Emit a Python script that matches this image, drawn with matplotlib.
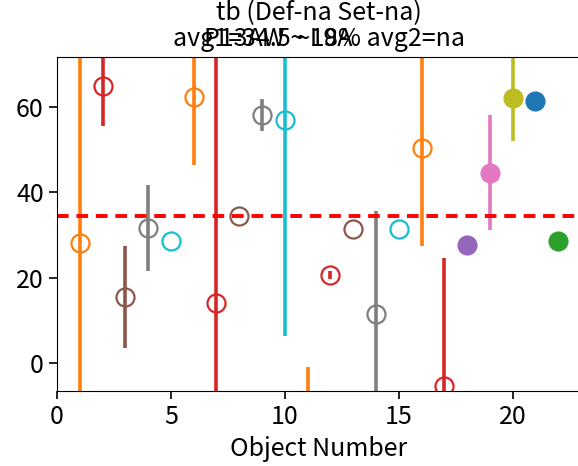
import numpy as np
import matplotlib
matplotlib.use("Agg")
import matplotlib.pyplot as plt

plt.rcParams['font.family'] = ['Noto Sans CJK JP', 'DejaVu Sans']

# Data
obj_num = [1, 2, 3, 4, 5, 6, 7, 8, 9, 10, 11, 12, 13, 14, 15, 16, 17, 18, 19, 20, 21, 22]
values = [28.2, 65.0, 15.5, 31.6, 28.5, 62.4, 14.0, 34.5, 58.1, 57.0, -15.0, 20.6,
          31.4, 11.5, 31.4, 50.4, -5.5, 27.6, 44.6, 62.1, 61.5, 28.5]
errors = [60.0, 9.5, 12.0, 10.0, 0.0, 16.0, 60.0, 0.0, 3.8, 50.6, 14.0, 0.9,
          0.0, 24.2, 0.0, 23.1, 30.0, 0.0, 13.5, 10.1, 0.0, 0.0]
colors = ["#ff7f0e", "#d62728", "#8c564b", "#7f7f7f", "#17becf",
          "#ff7f0e", "#d62728", "#8c564b", "#7f7f7f", "#17becf",
          "#ff7f0e", "#d62728", "#8c564b", "#7f7f7f", "#17becf",
          "#ff7f0e", "#d62728", "#9467bd", "#e377c2", "#bcbd22",
          "#1f77b4", "#2ca02c"]
filled = [False] * 17 + [True] * 5
avg1 = 34.5

fig = plt.figure(figsize=(5.78, 4.66), dpi=100)
ax = fig.add_axes([57 / 578, 75 / 466, 524 / 578, 334 / 466])

for x, y, e, c, f in zip(obj_num, values, errors, colors, filled):
    ax.errorbar(x, y, yerr=e if e > 0 else None, fmt="o", color=c,
                ecolor=c, elinewidth=2.6, capsize=0,
                markersize=13 if not f else 13.5,
                markerfacecolor=c if f else "none",
                markeredgecolor=c, markeredgewidth=1.6 if not f else 1.0)

ax.axhline(avg1, color="red", linestyle=(0, (3, 2)), linewidth=2.8)

ax.set_xlim(0, 23)
ax.set_ylim(-6.6, 71.7)
ax.set_xticks([0, 5, 10, 15, 20])
ax.set_yticks([0, 20, 40, 60])
ax.tick_params(labelsize=18, length=6, width=1.2)
ax.spines["right"].set_visible(False)
ax.set_xlabel("Object Number", fontsize=18)

ax.set_title("tb (Def-na Set-na)\navg1=34.5 ~18% avg2=na", fontsize=18, pad=8,
             linespacing=1.0)
fig.text(0.481, 1 - 39 / 466, "P13AW ~ L9A", fontsize=18, ha="center", va="center")

fig.savefig("out.png", dpi=100)
